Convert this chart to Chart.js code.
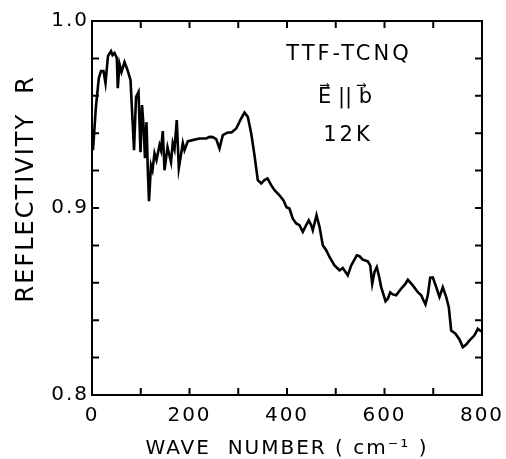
<!DOCTYPE html>
<html>
<head>
<meta charset="utf-8">
<script src="https://cdn.jsdelivr.net/npm/chart.js@4.4.1/dist/chart.umd.min.js"></script>
<style>
  body { margin: 0; background: white; }
  canvas { display: block; }
</style>
</head>
<body>
<canvas id="myChart" width="506" height="459"></canvas>
<script>
// wave number (cm-1)
const waveNumber = [
  2, 8, 14, 18.5, 23.6, 27.7, 32.8, 39, 42.1, 46.2, 50.9, 52.9, 56.4, 60.5, 66.7, 72.8,
  79, 83.1, 86.2, 90.3, 95.4, 99.5, 102.6, 105.6, 108.7, 111.8, 114.5, 116.9, 121, 124.1,
  128.2, 132.3, 138.5, 141.5, 145.2, 148.7, 154.9, 162.1, 165.7, 169.2, 173.9, 178.1, 183,
  186.3, 189.7, 196.5, 206.2, 220.5, 234.3, 241, 247.8, 254.8, 261.5, 268.3, 278.6, 286.2,
  295.8, 306.1, 312.8, 319.6, 326.6, 333.3, 340.1, 347.1, 353.8, 360, 367.6, 374.4, 384.6,
  392.8, 399, 405.1, 411.9, 418.9, 425.6, 432.4, 439.4, 444.7, 449.6, 452.9, 460.5, 466.7,
  473.4, 480.4, 487.2, 497.4, 507.7, 514.5, 524.7, 531.7, 543.2, 548.7, 555.5, 565.7, 570.7,
  574.8, 579.5, 584.2, 588.3, 593.2, 602.1, 606.8, 611.7, 617, 624, 634.3, 643.1, 647.8,
  658.1, 668.3, 675.3, 680, 684.1, 688.8, 693.7, 699.1, 706.1, 712.8, 719.6, 726.6, 731.9,
  736.8, 745.6, 753.8, 760.6, 767.6, 774.4, 784.6, 791.4, 798.4
]
const reflectivity = [
  0.9309, 0.9539, 0.9695, 0.9732, 0.9732, 0.9668, 0.9813, 0.9839, 0.9818, 0.9829, 0.9802, 0.9641, 0.977, 0.9727, 0.978, 0.9738,
  0.9684, 0.947, 0.9309, 0.9593, 0.962, 0.9299, 0.955, 0.9443, 0.9266, 0.9459, 0.9202, 0.9036, 0.9229, 0.9202,
  0.9293, 0.9256, 0.9336, 0.9309, 0.9411, 0.9202, 0.9325, 0.9245, 0.9347, 0.9315, 0.947, 0.9213, 0.9293,
  0.9347, 0.9309, 0.9357, 0.9363, 0.9372, 0.9372, 0.938, 0.9379, 0.9368, 0.9318, 0.939, 0.9404, 0.9404,
  0.9425, 0.9479, 0.951, 0.9488, 0.9399, 0.9282, 0.9149, 0.9131, 0.9149, 0.9158, 0.9122, 0.9095, 0.9068,
  0.9041, 0.9004, 0.8997, 0.8943, 0.8917, 0.8908, 0.8872, 0.8908, 0.8934, 0.8908, 0.8881, 0.8961, 0.8899,
  0.8801, 0.8774, 0.8738, 0.8693, 0.8667, 0.8679, 0.864, 0.8693, 0.8747, 0.8742, 0.8724, 0.8715, 0.8693,
  0.8595, 0.8658, 0.8684, 0.864, 0.8577, 0.8502, 0.8515, 0.8549, 0.8538, 0.8533, 0.8569, 0.8595, 0.8616,
  0.8586, 0.855, 0.8533, 0.8506, 0.8485, 0.8533, 0.8627, 0.8629, 0.8577, 0.8524, 0.8576, 0.8524, 0.847,
  0.8345, 0.8328, 0.8297, 0.8256, 0.827, 0.8292, 0.8319, 0.8354, 0.834
]

// text inside the plot, anchored in data units
const noteLines = ["TTF-TCNQ", "E\u20D7 || b\u20D7", "12K"]
const noteX = [524, 516, 522]
const noteY = [0.9823, 0.9593, 0.939]
const noteSpacing = ["3px", "0px", "3px"]

const xTitle = "WAVE  NUMBER ( cm\u207B\u00B9 )"
const yTitle = "    REFLECTIVITY  R"
const fontFamily = "'DejaVu Sans', sans-serif"

const points = waveNumber.map((x, i) => ({ x: x, y: reflectivity[i] }))

// wide lettering like the original
const spacingPlugin = {
  id: "spacing",
  beforeUpdate(chart) { chart.ctx.letterSpacing = "2px" },
  beforeDraw(chart) { chart.ctx.letterSpacing = "2px" }
}

// frame + inward tick marks on all four sides, plus the notes
const framePlugin = {
  id: "frame",
  afterDraw(chart) {
    const ctx = chart.ctx
    const a = chart.chartArea
    const xs = chart.scales.x
    const ys = chart.scales.y
    const len = 7
    ctx.save()
    ctx.strokeStyle = "black"
    ctx.lineWidth = 2
    ctx.strokeRect(a.left, a.top, a.right - a.left, a.bottom - a.top)
    ctx.beginPath()
    xs.ticks.forEach((t) => {
      const px = xs.getPixelForValue(t.value)
      if (px <= a.left + 1 || px >= a.right - 1) return
      ctx.moveTo(px, a.bottom); ctx.lineTo(px, a.bottom - len)
      ctx.moveTo(px, a.top); ctx.lineTo(px, a.top + len)
    })
    ys.ticks.forEach((t) => {
      const py = ys.getPixelForValue(t.value)
      if (py <= a.top + 1 || py >= a.bottom - 1) return
      ctx.moveTo(a.left, py); ctx.lineTo(a.left + len, py)
      ctx.moveTo(a.right, py); ctx.lineTo(a.right - len, py)
    })
    ctx.stroke()

    ctx.fillStyle = "black"
    ctx.font = "21px " + fontFamily
    ctx.textAlign = "center"
    ctx.textBaseline = "middle"
    noteLines.forEach((txt, i) => {
      ctx.letterSpacing = noteSpacing[i]
      ctx.fillText(txt, xs.getPixelForValue(noteX[i]) + 1.5, ys.getPixelForValue(noteY[i]))
    })
    ctx.restore()
  }
}

const config = {
  type: "line",
  data: {
    datasets: [{
      data: points,
      borderColor: "black",
      borderWidth: 2.6,
      pointRadius: 0,
      tension: 0,
      fill: false
    }]
  },
  options: {
    responsive: false,
    animation: false,
    layout: { padding: { top: 21, right: 24, left: 0, bottom: 0 } },
    plugins: { legend: { display: false }, tooltip: { enabled: false } },
    scales: {
      x: {
        type: "linear",
        min: 0,
        max: 800,
        afterFit: (s) => { s.height = 64 },
        border: { display: false },
        grid: { display: false },
        ticks: {
          stepSize: 100,
          autoSkip: false,
          maxRotation: 0,
          padding: 1,
          color: "black",
          font: { family: fontFamily, size: 20 },
          callback: (v) => (v % 200 === 0 ? String(v) : "")
        },
        title: {
          display: true,
          text: xTitle,
          color: "black",
          font: { family: fontFamily, size: 20, lineHeight: 1 },
          padding: { top: 0, bottom: 0 }
        }
      },
      y: {
        min: 0.8,
        max: 1.0,
        afterFit: (s) => { s.width = 92 },
        border: { display: false },
        grid: { display: false, drawTicks: false },
        ticks: {
          stepSize: 0.02,
          autoSkip: false,
          padding: 3,
          color: "black",
          font: { family: fontFamily, size: 20 },
          callback: (v) => (Math.abs(v * 10 - Math.round(v * 10)) < 1e-6 ? v.toFixed(1) : "")
        },
        title: {
          display: true,
          text: yTitle,
          color: "black",
          font: { family: fontFamily, size: 24, lineHeight: 1 },
          padding: { top: 15, bottom: 0 }
        }
      }
    }
  },
  plugins: [spacingPlugin, framePlugin]
}

new Chart(document.querySelector("#myChart"), config)
</script>
</body>
</html>
